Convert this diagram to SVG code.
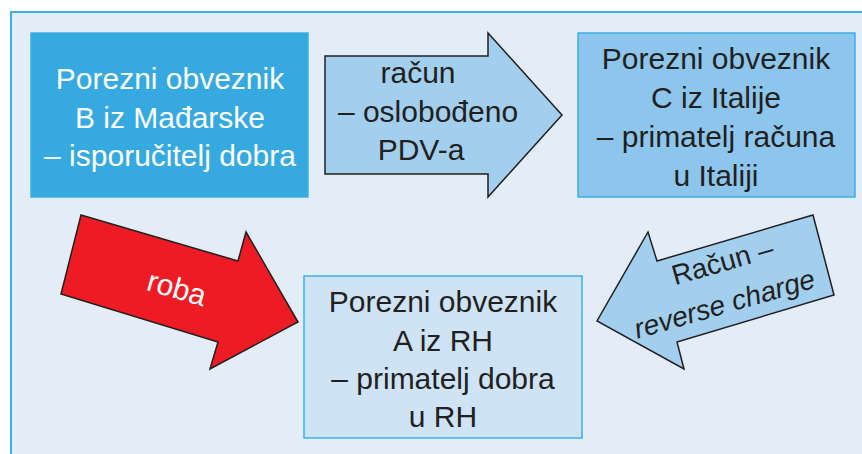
<svg xmlns="http://www.w3.org/2000/svg" width="862" height="454" viewBox="0 0 862 454">
<style>
.t{font-family:"Liberation Sans",Arial,sans-serif;font-size:30px;text-anchor:middle;fill:#231F20}
.w{fill:#FFFFFF}
.box{stroke:#3BB0E3;stroke-width:1.5}
.arr{stroke:#231F20;stroke-width:1.5;stroke-linejoin:miter}
.s{font-size:28px}
.i{font-style:italic}
</style>
<rect x="0" y="0" width="862" height="454" fill="#FFFFFF"/>
<rect x="11" y="12" width="900" height="500" fill="#E2EDF8" stroke="#3DB1E6" stroke-width="2"/>
<g id="connectors">
  <g id="arrow-racun">
    <polygon class="arr" fill="#A2CFEE" points="325,56 488,56 488,33 562,115 488,197 488,174 325,174"/>
    <text class="t" x="418" y="83">račun</text>
    <text class="t" x="428" y="122">– oslobođeno</text>
    <text class="t" x="421" y="160">PDV-a</text>
  </g>
  <g id="arrow-roba">
    <polygon class="arr" fill="#ED1C24" points="81,215 238,261 246,232 298,322 210,369 218,342 61,294"/>
    <text class="t w" transform="translate(174,298) rotate(16)" x="0" y="0">roba</text>
  </g>
  <g id="arrow-reverse">
    <polygon class="arr" fill="#A2CFEE" points="813,215 834,295 677,342 684,369 597,321 648,232 657,261"/>
    <text class="t s" transform="translate(725,271) rotate(-16)" x="0" y="0">Račun –</text>
    <text class="t s i" transform="translate(727,313) rotate(-16)" x="0" y="0">reverse charge</text>
  </g>
</g>
<g id="node-B">
  <rect class="box" x="31" y="33" width="277" height="164" fill="#36A9E1"/>
  <text class="t w" x="170" y="89">Porezni obveznik</text>
  <text class="t w" x="170" y="128">B iz Mađarske</text>
  <text class="t w" x="170" y="166">– isporučitelj dobra</text>
</g>
<g id="node-C">
  <rect class="box" x="578" y="33" width="277" height="164" fill="#8DC6EC"/>
  <text class="t" x="716" y="69">Porezni obveznik</text>
  <text class="t" x="716" y="108">C iz Italije</text>
  <text class="t" x="716" y="147">– primatelj računa</text>
  <text class="t" x="716" y="186">u Italiji</text>
</g>
<g id="node-A">
  <rect class="box" x="304" y="276" width="278" height="162" fill="#CEE3F6" stroke-width="2"/>
  <text class="t" x="443" y="312">Porezni obveznik</text>
  <text class="t" x="443" y="351">A iz RH</text>
  <text class="t" x="443" y="389">– primatelj dobra</text>
  <text class="t" x="443" y="427">u RH</text>
</g>
</svg>
